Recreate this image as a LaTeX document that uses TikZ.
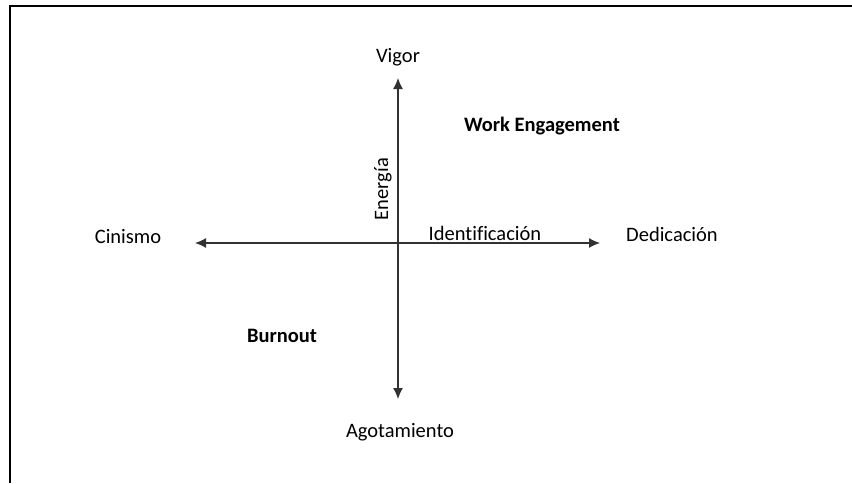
\documentclass[tikz,border=0pt]{standalone}
\usepackage{fontspec}
\setmainfont[Ligatures=NoCommon]{Carlito}
\usetikzlibrary{arrows.meta,positioning}
\definecolor{axisgray}{RGB}{50,50,50}

\tikzset{
    label/.style={font=\fontsize{10.25}{12}\selectfont, inner sep=0pt},
    axis/.style={axisgray, line width=0.6pt, {Latex[length=5.5pt,width=5pt]}-{Latex[length=5.5pt,width=5pt]}}
}

\begin{document}
\begin{tikzpicture}[x=0.5pt, y=-0.5pt]
    \useasboundingbox (0,0) rectangle (852,483);
    % Frame (cut off on the right and at the bottom)
    \draw[line width=0.9pt] (10,483) -- (10,6) -- (852,6);

    % Axis ends
    \coordinate (vigorend) at (398,78);
    \coordinate (agotend) at (398,399);
    \coordinate (cinend) at (195,243);
    \coordinate (dedend) at (600,243);

    % Axes
    \draw[axis] (agotend) -- (vigorend);
    \draw[axis] (cinend) -- (dedend);

    % Pole labels
    \node[label] (vigor) at (398,57) {Vigor};
    \node[label] (agot) at (400,432) {Agotamiento};
    \node[label] (cinismo) at (128,237) {Cinismo};
    \node[label] (dedic) at (672,234) {Dedicación};

    % Axis names
    \node[label, rotate=90] (energia) at (383,189) {Energía};
    \node[label] (ident) at (485,233) {Identificación};

    % Quadrants
    \node[label, font=\fontsize{10.25}{12}\selectfont\bfseries] (engage) at (542,126) {Work Engagement};
    \node[label, font=\fontsize{10.25}{12}\selectfont\bfseries] (burnout) at (282,336) {Burnout};
\end{tikzpicture}
\end{document}
